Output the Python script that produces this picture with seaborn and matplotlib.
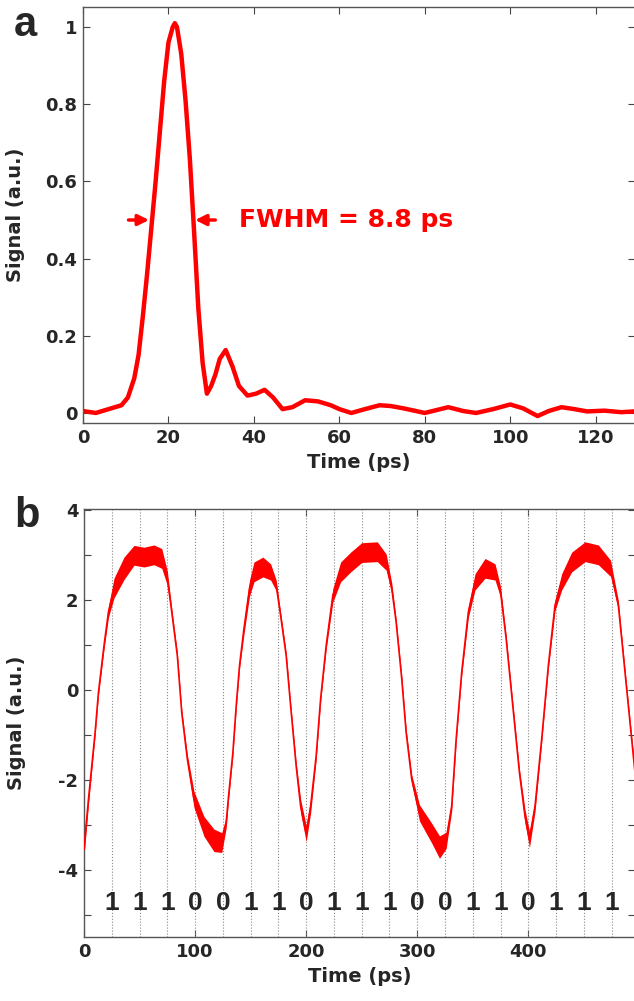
import matplotlib
matplotlib.use('Agg')
import matplotlib.pyplot as plt
from matplotlib.font_manager import FontProperties
import seaborn as sns
import pandas as pd
import numpy as np

# Panel a: single pulse
pulse_t = [0, 3, 6, 9, 10.5, 12, 13, 14, 15, 16, 17, 18, 19, 20, 21, 21.5, 22, 23, 24, 25,
           26, 27, 28, 29, 30, 31, 32, 33.4, 35, 36.5, 38.5, 40.5, 42.5, 44.5, 46.7, 49, 52, 55,
           58, 60, 62.8, 66, 69.4, 72, 75, 80, 85.5, 89, 92, 96, 100, 103, 106.4, 109, 112, 115,
           118, 122, 126, 129]
pulse_v = [0.005, 0.0, 0.01, 0.02, 0.04, 0.09, 0.15, 0.25, 0.36, 0.48, 0.6, 0.73, 0.86, 0.96, 1.0,
           1.01, 1.0, 0.93, 0.81, 0.66, 0.47, 0.27, 0.13, 0.05, 0.07, 0.1, 0.14, 0.163, 0.12, 0.07,
           0.045, 0.05, 0.06, 0.04, 0.01, 0.015, 0.033, 0.03, 0.02, 0.01, 0.0, 0.01, 0.02, 0.018,
           0.012, 0.0, 0.015, 0.005, 0.0, 0.01, 0.022, 0.012, -0.008, 0.005, 0.015, 0.01, 0.004,
           0.006, 0.002, 0.004]
fwhm_label = 'FWHM = 8.8 ps'

# Panel b: bit pattern signal
sig_t = [0, 4, 10, 13, 18, 22, 27, 36, 45, 54, 63, 70, 75, 79, 84, 88, 93, 99, 108, 117,
         124, 128, 130, 134, 137, 140, 144, 149, 153, 161, 168, 173, 177, 182, 186, 191, 195, 200,
         204, 209, 213, 218, 224, 231, 240, 250, 264, 272, 277, 281, 286, 290, 295, 302, 313,
         320, 326, 331, 335, 340, 346, 352, 361, 370, 375, 380, 386, 392, 397, 401, 406, 412,
         418, 424, 430, 439, 451, 463, 474, 481, 487, 493, 496]
sig_v = [-3.55, -2.44, -0.95, -0.06, 0.98, 1.73, 2.26, 2.7, 2.99, 2.95, 3.0, 2.92, 2.48, 1.73,
         0.76, -0.51, -1.54, -2.44, -3.04, -3.35, -3.4, -2.95, -2.4, -1.4, -0.36, 0.54, 1.36,
         2.26, 2.62, 2.73, 2.62, 2.32, 1.65, 0.76, -0.36, -1.7, -2.59, -3.2, -2.59, -1.47, -0.2,
         0.98, 2.1, 2.62, 2.84, 3.05, 3.07, 2.84, 2.26, 1.5, 0.25, -0.95, -1.99, -2.74, -3.19,
         -3.5, -3.35, -2.59, -1.1, 0.39, 1.73, 2.4, 2.7, 2.62, 2.17, 1.14, -0.36, -1.85, -2.82,
         -3.33, -2.59, -1.1, 0.54, 1.88, 2.4, 2.84, 3.07, 3.0, 2.7, 1.88, 0.39, -1.1, -1.85]
# half width of the noise band around the signal
sig_noise = [0.15, 0.12, 0.07, 0.07, 0.08, 0.12, 0.22, 0.25, 0.22, 0.22, 0.22, 0.22, 0.16, 0.08,
             0.07, 0.07, 0.1, 0.18, 0.22, 0.25, 0.22, 0.12, 0.08, 0.07, 0.07, 0.07, 0.12, 0.18,
             0.22, 0.22, 0.18, 0.12, 0.07, 0.07, 0.07, 0.08, 0.15, 0.18, 0.15, 0.08, 0.07, 0.08,
             0.15, 0.22, 0.22, 0.22, 0.22, 0.18, 0.12, 0.07, 0.07, 0.07, 0.1, 0.18, 0.22, 0.25,
             0.18, 0.1, 0.07, 0.07, 0.12, 0.18, 0.22, 0.18, 0.12, 0.07, 0.07, 0.08, 0.15, 0.18,
             0.12, 0.07, 0.07, 0.12, 0.18, 0.22, 0.22, 0.22, 0.18, 0.1, 0.07, 0.07, 0.08]
bit_times = [25, 50, 75, 100, 125, 150, 175, 200, 225, 250, 275, 300, 325, 350, 375, 400,
             425, 450, 475]
bits = [1, 1, 1, 0, 0, 1, 1, 0, 1, 1, 1, 0, 0, 1, 1, 0, 1, 1, 1]

sns.set_style('ticks')
plt.rcParams['font.family'] = ['DejaVu Sans']
plt.rcParams['font.weight'] = 'bold'
plt.rcParams['axes.labelweight'] = 'bold'

df_a = pd.DataFrame({'t': pulse_t, 'v': pulse_v})
df_b = pd.DataFrame({'t': sig_t, 'v': sig_v, 'n': sig_noise})

fig = plt.figure(figsize=(6.34, 10.01), dpi=100)
ax1 = fig.add_axes([83 / 634, 1 - 423 / 1001, 552 / 634, 416 / 1001])
ax2 = fig.add_axes([84 / 634, 1 - 937 / 1001, 551 / 634, 428 / 1001])

red = '#ff0000'
bit_font = FontProperties(family='Liberation Sans', weight='bold', size=19)
letter_font = FontProperties(family='Liberation Sans', weight='bold', size=30)

# --- panel a ---
sns.lineplot(data=df_a, x='t', y='v', ax=ax1, color=red, lw=3.2)
ax1.set_xlim(0, 129.2)
ax1.set_ylim(-0.026, 1.052)
ax1.set_xticks([0, 20, 40, 60, 80, 100, 120])
ax1.set_yticks([0, 0.2, 0.4, 0.6, 0.8, 1.0])
ax1.set_yticklabels(['0', '0.2', '0.4', '0.6', '0.8', '1'])
ax1.annotate('', xy=(16.1, 0.5), xytext=(10.0, 0.5),
             arrowprops=dict(arrowstyle='-|>', color=red, lw=2.5, mutation_scale=16))
ax1.annotate('', xy=(25.6, 0.5), xytext=(31.6, 0.5),
             arrowprops=dict(arrowstyle='-|>', color=red, lw=2.5, mutation_scale=16))
ax1.text(36.4, 0.5, fwhm_label, color=red, fontsize=18, fontweight='bold',
         ha='left', va='center')

# --- panel b ---
for t in bit_times:
    ax2.axvline(t, color='#888888', ls=':', lw=0.8, zorder=1)
ax2.fill_between(df_b['t'], df_b['v'] - df_b['n'], df_b['v'] + df_b['n'],
                 color=red, lw=0, zorder=2)
sns.lineplot(data=df_b, x='t', y='v', ax=ax2, color=red, lw=1.2, zorder=3)
for t, b in zip(bit_times, bits):
    ax2.text(t, -4.75, str(b), ha='center', va='center', fontproperties=bit_font)
ax2.set_xlim(0, 496)
ax2.set_ylim(-5.5, 4.02)
ax2.set_xticks([0, 100, 200, 300, 400])
ax2.set_yticks([-5, -4, -3, -2, -1, 0, 1, 2, 3, 4])
ax2.set_yticklabels(['', '-4', '', '-2', '', '0', '', '2', '', '4'])

for ax in (ax1, ax2):
    ax.tick_params(direction='in', top=True, right=True, length=5, width=0.8,
                   color='#444444', labelsize=13, pad=4)
    for s in ax.spines.values():
        s.set_color('#555555')
        s.set_linewidth(1.0)
    ax.set_xlabel('Time (ps)', fontsize=14, labelpad=5)
    ax.set_ylabel('Signal (a.u.)', fontsize=14)
    ax.yaxis.set_label_coords(-0.105, 0.5)

fig.text(25 / 634, 1 - 25 / 1001, 'a', fontproperties=letter_font,
         ha='center', va='center')
fig.text(27 / 634, 1 - 516 / 1001, 'b', fontproperties=letter_font,
         ha='center', va='center')

fig.savefig('out.png', dpi=100)
